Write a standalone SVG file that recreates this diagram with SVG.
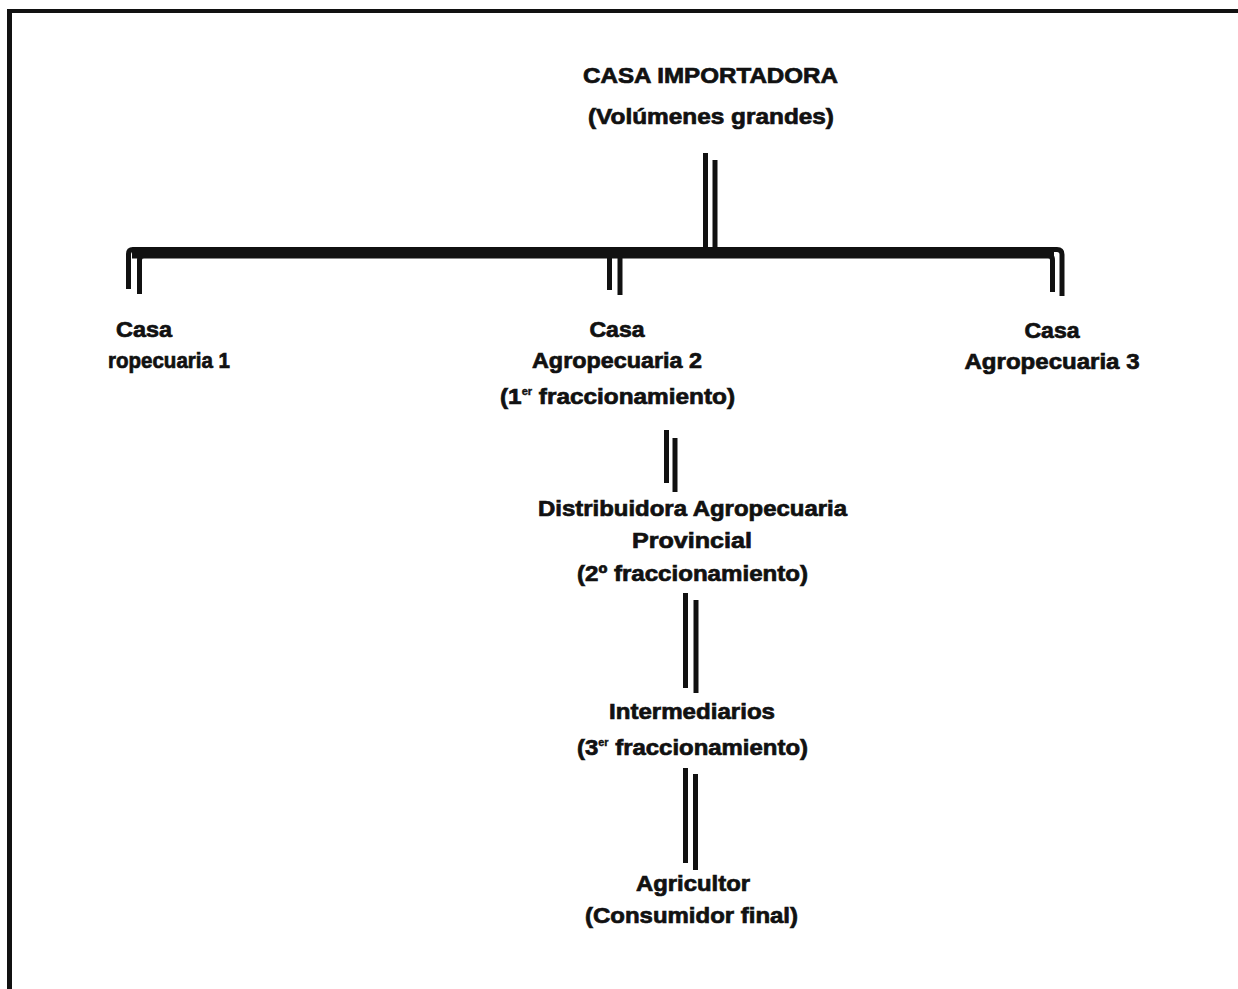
<svg xmlns="http://www.w3.org/2000/svg" width="1238" height="989" viewBox="0 0 1238 989">
<style>
.t{font-family:"Liberation Sans",Arial,sans-serif;font-weight:bold;font-size:22px;fill:#111;stroke:#111;stroke-width:0.7;text-anchor:middle}
.s{font-size:10px;stroke-width:0.4}
.c{fill:none;stroke:#111;stroke-width:5;stroke-linecap:butt}
.f{fill:none;stroke:#111}
</style>
<rect width="1238" height="989" fill="#fff"/>
<g id="frame">
<line class="f" x1="7" y1="11" x2="1238" y2="11" stroke-width="4"/>
<line class="f" x1="9.5" y1="9" x2="9.5" y2="989" stroke-width="5"/>
</g>
<g id="connectors">
<line class="c" x1="705.5" y1="153" x2="705.5" y2="250"/>
<line class="c" x1="715" y1="160" x2="715" y2="250"/>
<path class="c" d="M128.5,289 V254 Q128.5,249.5 133,249.5 H1057 Q1062,249.5 1062,254.5 V296"/>
<path class="c" stroke-width="6" d="M139.5,294 V260 Q139.5,255.5 144,255.5 H1048 Q1052.5,255.5 1052.5,260 V292"/>
<rect x="132" y="247.5" width="922" height="11" fill="#111"/>
<line class="c" x1="609.5" y1="256" x2="609.5" y2="290"/>
<line class="c" x1="620" y1="256" x2="620" y2="295"/>
<line class="c" x1="666.5" y1="430" x2="666.5" y2="483"/>
<line class="c" x1="675" y1="438" x2="675" y2="492"/>
<line class="c" x1="685.5" y1="593" x2="685.5" y2="688"/>
<line class="c" x1="696" y1="600" x2="696" y2="693"/>
<line class="c" x1="685.5" y1="768" x2="685.5" y2="863"/>
<line class="c" x1="695.5" y1="774" x2="695.5" y2="870"/>
</g>
<g id="casa-importadora">
<text class="t" x="710.5" y="83" textLength="255" lengthAdjust="spacingAndGlyphs">CASA IMPORTADORA</text>
<text class="t" x="711" y="124" textLength="246" lengthAdjust="spacingAndGlyphs">(Volúmenes grandes)</text>
</g>
<g id="casa-1">
<text class="t" x="144" y="337" textLength="56" lengthAdjust="spacingAndGlyphs">Casa</text>
<text class="t" x="169" y="368" textLength="122" lengthAdjust="spacingAndGlyphs">ropecuaria 1</text>
</g>
<g id="casa-2">
<text class="t" x="617" y="337" textLength="55" lengthAdjust="spacingAndGlyphs">Casa</text>
<text class="t" x="617" y="368" textLength="170" lengthAdjust="spacingAndGlyphs">Agropecuaria 2</text>
<text class="t" x="617.5" y="404" textLength="235" lengthAdjust="spacingAndGlyphs">(1<tspan class="s" dy="-9">er</tspan><tspan dy="9"> fraccionamiento)</tspan></text>
</g>
<g id="casa-3">
<text class="t" x="1052" y="338" textLength="55" lengthAdjust="spacingAndGlyphs">Casa</text>
<text class="t" x="1052" y="369" textLength="175" lengthAdjust="spacingAndGlyphs">Agropecuaria 3</text>
</g>
<g id="distribuidora">
<text class="t" x="692.5" y="516" textLength="309" lengthAdjust="spacingAndGlyphs">Distribuidora Agropecuaria</text>
<text class="t" x="692" y="548" textLength="120" lengthAdjust="spacingAndGlyphs">Provincial</text>
<text class="t" x="692.5" y="581" textLength="231" lengthAdjust="spacingAndGlyphs">(2º fraccionamiento)</text>
</g>
<g id="intermediarios">
<text class="t" x="692" y="719" textLength="166" lengthAdjust="spacingAndGlyphs">Intermediarios</text>
<text class="t" x="692.5" y="755" textLength="231" lengthAdjust="spacingAndGlyphs">(3<tspan class="s" dy="-9">er</tspan><tspan dy="9"> fraccionamiento)</tspan></text>
</g>
<g id="agricultor">
<text class="t" x="693" y="891" textLength="114" lengthAdjust="spacingAndGlyphs">Agricultor</text>
<text class="t" x="691.5" y="923" textLength="213" lengthAdjust="spacingAndGlyphs">(Consumidor final)</text>
</g>
</svg>
